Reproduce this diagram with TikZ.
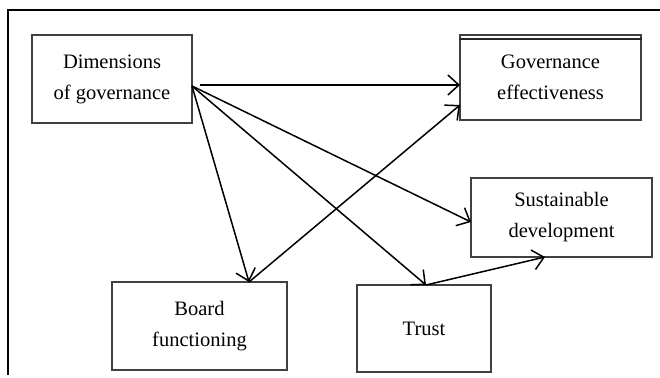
\documentclass[tikz,border=0pt]{standalone}
\usepackage{fontspec}
\setmainfont{Liberation Serif}
\usetikzlibrary{arrows.meta}
\begin{document}
\begin{tikzpicture}[x=1pt,y=-1pt,
  box/.style={draw=black!75, line width=1.6pt, align=center, inner sep=0pt,
    font=\fontsize{20.5}{31}\selectfont},
  link/.style={draw=black, line width=1.5pt, -{Straight Barb[length=11pt,width=20pt,line width=1.5pt]}},
  frame/.style={draw=black, line width=1.8pt}]
\useasboundingbox (0,0) rectangle (660,377);
% frame
\coordinate (ftl) at (8,10);
\coordinate (ftr) at (660,10);
\coordinate (fbl) at (8,375);
\draw[frame] (fbl) -- (ftl) -- (ftr);
% boxes
\node[box, minimum width=160pt, minimum height=88pt] (dim) at (112,79) {Dimensions\\of governance};
\node[box, minimum width=181pt, minimum height=85pt] (gov) at (550.5,77.5) {Governance\\effectiveness};
\draw[draw=black!85, line width=1.6pt] ([yshift=-5pt]gov.north west) -- ([yshift=-5pt]gov.north east);
\node[box, minimum width=181pt, minimum height=79pt] (sus) at (561.5,217.5) {Sustainable\\development};
\node[box, minimum width=134pt, minimum height=87pt] (trust) at (424,328.5) {Trust};
\node[box, minimum width=175pt, minimum height=88pt] (board) at (199.5,326) {Board\\functioning};
% connector points
\coordinate (d0) at (200,85);
\coordinate (d1) at (192,86);
\coordinate (g1) at (460,85);
\coordinate (g2) at (460,105);
\coordinate (b1) at (249,282);
\coordinate (t1) at (426,285);
\coordinate (s1) at (471,222);
\coordinate (s2) at (545,257);
% arrows
\draw[link] (d0) -- (g1);
\draw[link] (d1) -- (b1);
\draw[link] (d1) -- (t1);
\draw[link] (d1) -- (s1);
\draw[link] (b1) -- (g2);
\draw[link] (t1) -- (s2);
\end{tikzpicture}
\end{document}
